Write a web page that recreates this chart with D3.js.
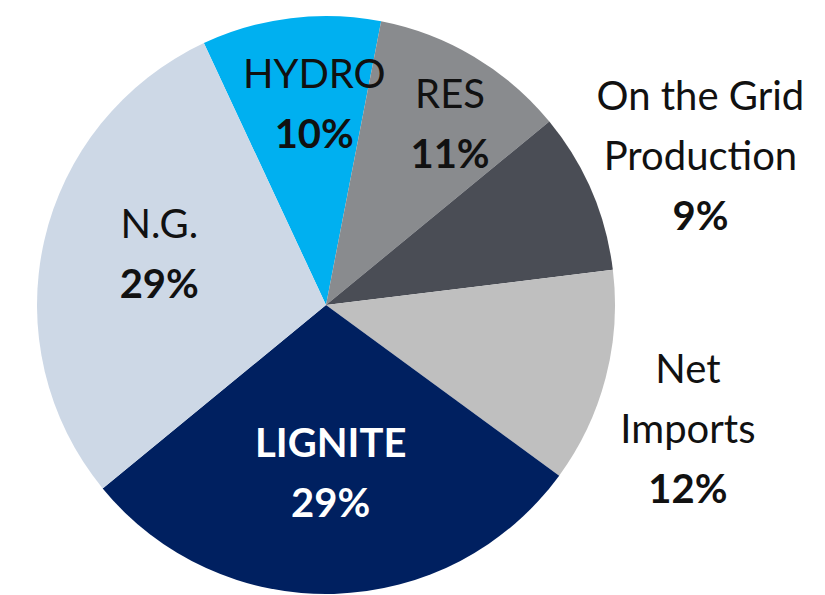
<!DOCTYPE html>
<html>
<head>
    <meta charset="utf-8">
    <title>Pie chart</title>
    <script src="https://d3js.org/d3.v7.min.js"></script>
    <style>
        body { margin: 0; background: #ffffff; }
        svg text { font-family: Lato, "Open Sans", sans-serif; font-size: 40px; }
    </style>
</head>
<body>
<svg id="chart" width="825" height="595"></svg>

<script>
    // datos
    const categories = ["HYDRO", "RES", "On the Grid Production", "Net Imports", "LIGNITE", "N.G."];
    const values = [10, 11, 9, 12, 29, 29];
    const labelLines = [["HYDRO"], ["RES"], ["On the Grid", "Production"], ["Net", "Imports"], ["LIGNITE"], ["N.G."]];
    const colors = ["#00b0f0", "#898b8e", "#4a4d55", "#bfbfbf", "#002060", "#cdd8e6"];

    const svg = d3.select("#chart");
    const cx = 326, cy = 305, radius = 289;

    const pie = d3.pie()
        .sort(null)
        .value(d => d)
        .startAngle(-25 * Math.PI / 180)
        .endAngle(335 * Math.PI / 180);

    const arcs = pie(values);
    const arc = d3.arc().innerRadius(0).outerRadius(radius);

    const g = svg.append("g").attr("transform", `translate(${cx},${cy})`);

    g.selectAll("path")
        .data(arcs)
        .join("path")
        .attr("fill", (d, i) => colors[i])
        .attr("d", arc);

    // posiciones de etiquetas (radio y ajuste por segmento)
    const labelRadius = [203, 211, 378, 374, 168, 171];
    const labelShift = [[13, 0], [16, 0], [27, 0], [0, 30], [0, 0], [0, -13]];
    const lineH = 60;

    arcs.forEach((d, i) => {
        const mid = (d.startAngle + d.endAngle) / 2;
        const lines = labelLines[i];
        const n = lines.length + 1;
        const x = Math.sin(mid) * labelRadius[i] + labelShift[i][0];
        const y = -Math.cos(mid) * labelRadius[i] + labelShift[i][1];
        const top = y - (n - 1) * lineH / 2 + 14;
        const white = i === 4;

        const t = g.append("text")
            .attr("text-anchor", "middle")
            .attr("fill", white ? "#ffffff" : "#111111");

        lines.forEach((line, k) => {
            t.append("tspan")
                .attr("x", x)
                .attr("y", top + k * lineH)
                .attr("font-weight", white ? "bold" : "normal")
                .text(line);
        });
        t.append("tspan")
            .attr("x", x)
            .attr("y", top + lines.length * lineH)
            .attr("font-weight", "bold")
            .text(values[i] + "%");
    });
</script>
</body>
</html>
